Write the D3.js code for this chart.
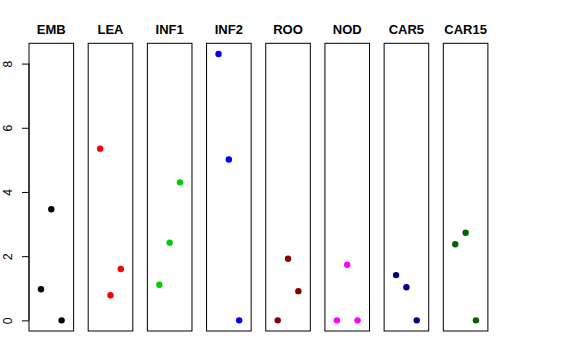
<!DOCTYPE html>
<html><head><meta charset="utf-8">
<script src="https://cdn.jsdelivr.net/npm/d3@7"></script>
<style>body{margin:0;background:#fff}svg{display:block}</style>
</head><body>
<script>
const categories = ["EMB","LEA","INF1","INF2","ROO","NOD","CAR5","CAR15"];
const colors = ["#000000","#FF0000","#00CD00","#0000FF","#8B0000","#FF00FF","#00008B","#006400"];
const values = [
  [0.97, 3.46, 0],
  [5.35, 0.78, 1.60],
  [1.11, 2.42, 4.30],
  [8.30, 5.01, 0],
  [0, 1.92, 0.91],
  [0, 1.73, 0],
  [1.41, 1.03, 0],
  [2.37, 2.73, 0]
];
const yTicks = [0, 2, 4, 6, 8];

const W = 576, H = 360;
const svg = d3.select("body").append("svg").attr("width", W).attr("height", H);

const pTop = 43.3, pBottom = 331;
const y = d3.scaleLinear().domain([-0.332, 8.632]).range([pBottom, pTop]);
const panelX = d3.scalePoint().domain(categories).range([29, 443.3]);
const pw = 44.6;
const x = d3.scaleLinear().domain([-0.16, 4.16]).range([0, pw]);

categories.forEach((c, i) => {
  const g = svg.append("g").attr("transform", `translate(${panelX(c)},0)`);
  g.append("rect").attr("x", 0).attr("y", pTop).attr("width", pw).attr("height", pBottom - pTop)
    .attr("fill", "none").attr("stroke", "#000").attr("stroke-width", 1);
  g.append("text").attr("x", pw / 2).attr("y", 34.3).attr("text-anchor", "middle")
    .attr("font-family", "Liberation Sans, Arial, sans-serif").attr("font-weight", "bold")
    .attr("font-size", 13).text(c);
  g.selectAll("circle").data(values[i]).enter().append("circle")
    .attr("cx", (d, j) => x(j + 1)).attr("cy", d => y(d)).attr("r", 3.2)
    .attr("fill", colors[i]);
});

const axis = d3.axisLeft(y).tickValues(yTicks).tickSize(7).tickFormat(d3.format("d"));
const ag = svg.append("g").attr("transform", `translate(29,0)`).call(axis);
ag.select(".domain").attr("d", `M0,${y(0)}V${y(8)}`).attr("stroke", "#000");
ag.selectAll(".tick line").attr("stroke", "#000");
ag.selectAll(".tick text").attr("font-family", "Liberation Sans, Arial, sans-serif").attr("font-size", 12)
  .attr("fill", "#000")
  .attr("transform", "translate(-21,0) rotate(-90)")
  .attr("x", 0).attr("y", 0).attr("dy", "0.35em").attr("text-anchor", "middle");
</script>
</body></html>
